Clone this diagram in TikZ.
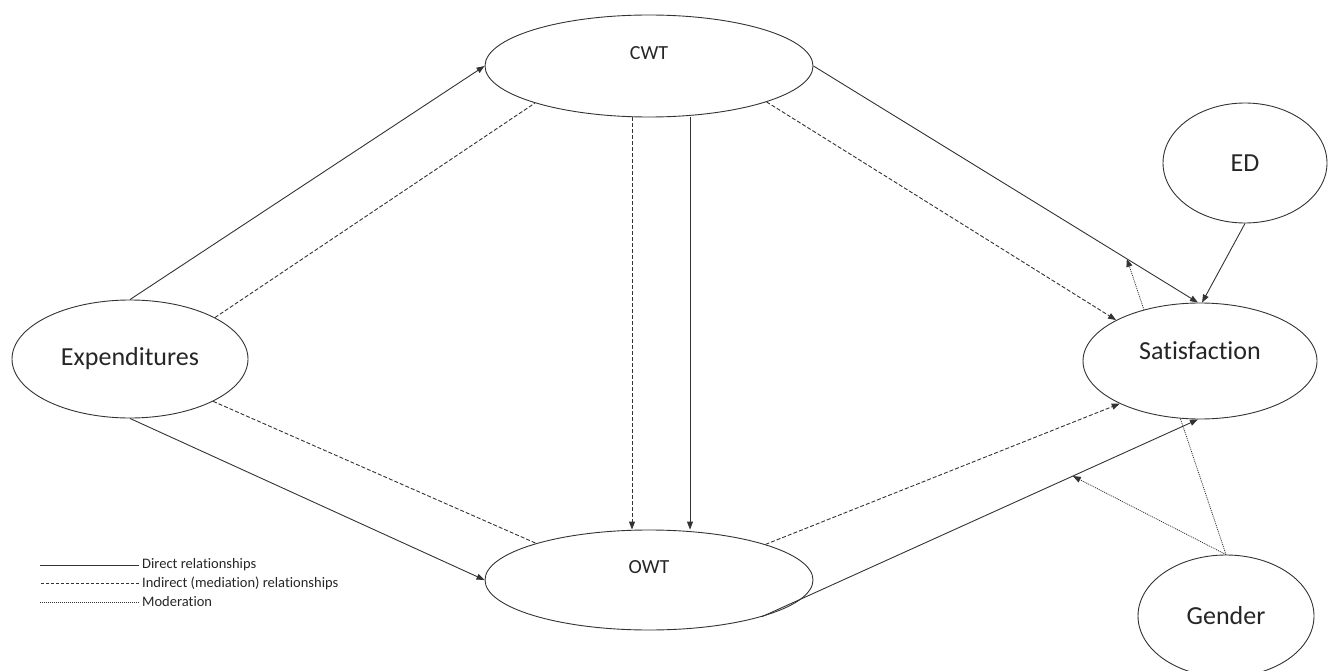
\documentclass[tikz,border=0pt]{standalone}
\usepackage{fontspec}
\setmainfont{Carlito}[Ligatures={NoCommon,NoRequired,NoContextual}]
\usetikzlibrary{shapes.geometric,arrows.meta,backgrounds}

\begin{document}
\begin{tikzpicture}[x=1pt,y=-1pt,
    construct/.style={ellipse,draw=black!80,line width=0.9pt,fill=white,inner sep=0pt,
        text=black!85,font=\fontsize{26}{30}\selectfont},
    small/.style={font=\fontsize{20}{24}\selectfont},
    tip/.style={-{Triangle[length=8pt,width=6pt]}},
    direct/.style={draw=black!80,line width=0.9pt},
    indirect/.style={direct,dash pattern=on 4pt off 2pt},
    moder/.style={direct,line width=0.8pt,dash pattern=on 1pt off 1pt},
    key/.style={anchor=west,inner sep=0pt,text=black!85,font=\fontsize{14.5}{17}\selectfont}]
\useasboundingbox (0,0) rectangle (1328,671);
\clip (0,0) rectangle (1328,671);

% constructs
\node[construct,minimum width=236pt,minimum height=118pt] (exp) at (130,359) {Expenditures};
\node[construct,small,minimum width=328pt,minimum height=102pt,text depth=26pt] (cwt) at (649,66) {CWT};
\node[construct,small,minimum width=328pt,minimum height=100pt,text depth=26pt] (owt) at (649,580) {OWT};
\node[construct,minimum width=234pt,minimum height=116pt,text depth=20pt] (sat) at (1200,361) {Satisfaction};
\node[construct,minimum width=164pt,minimum height=120pt] (ed) at (1245,163) {ED};
\node[construct,minimum width=176pt,minimum height=122pt] (gen) at (1226,616) {Gender};

% paths
\draw[direct,tip] (exp.north) -- (cwt.west);
\draw[indirect] (exp.26) -- (cwt.198);
\draw[indirect] (exp.-27) -- (owt.162);
\draw[direct,tip] (exp.south) -- (owt.west);
\draw[indirect,tip] ([xshift=-17pt]cwt.south) -- ([xshift=-17pt]owt.north);
\draw[direct,tip] ([xshift=41pt]cwt.south) -- ([xshift=41pt]owt.north);
\draw[direct,tip] (cwt.east) -- coordinate[pos=0.815] (m1) (sat.92);
\draw[indirect,tip] (cwt.-17) -- (sat.154);
\draw[indirect,tip] (owt.17) -- (sat.208);
\draw[direct,tip] (owt.-18) -- coordinate[pos=0.713] (m2) (sat.268);
\draw[direct,tip] (ed.south) -- (sat.88);

% moderation
\begin{scope}[on background layer]
\draw[moder,tip] (gen.north) -- (m1);
\end{scope}
\draw[moder,tip] (gen.north) -- (m2);

% key
\node[key] (kdir) at (142,565) {Direct relationships};
\node[key] (kind) at (142,583) {Indirect (mediation) relationships};
\node[key] (kmod) at (142,602) {Moderation};
\draw[direct,line width=0.8pt] ([xshift=-3pt]kdir.west) -- ++(-99,0);
\draw[direct,line width=0.8pt,dash pattern=on 3.5pt off 1.5pt] ([xshift=-3pt]kind.west) -- ++(-99,0);
\draw[moder] ([xshift=-3pt]kmod.west) -- ++(-99,0);
\end{tikzpicture}
\end{document}
